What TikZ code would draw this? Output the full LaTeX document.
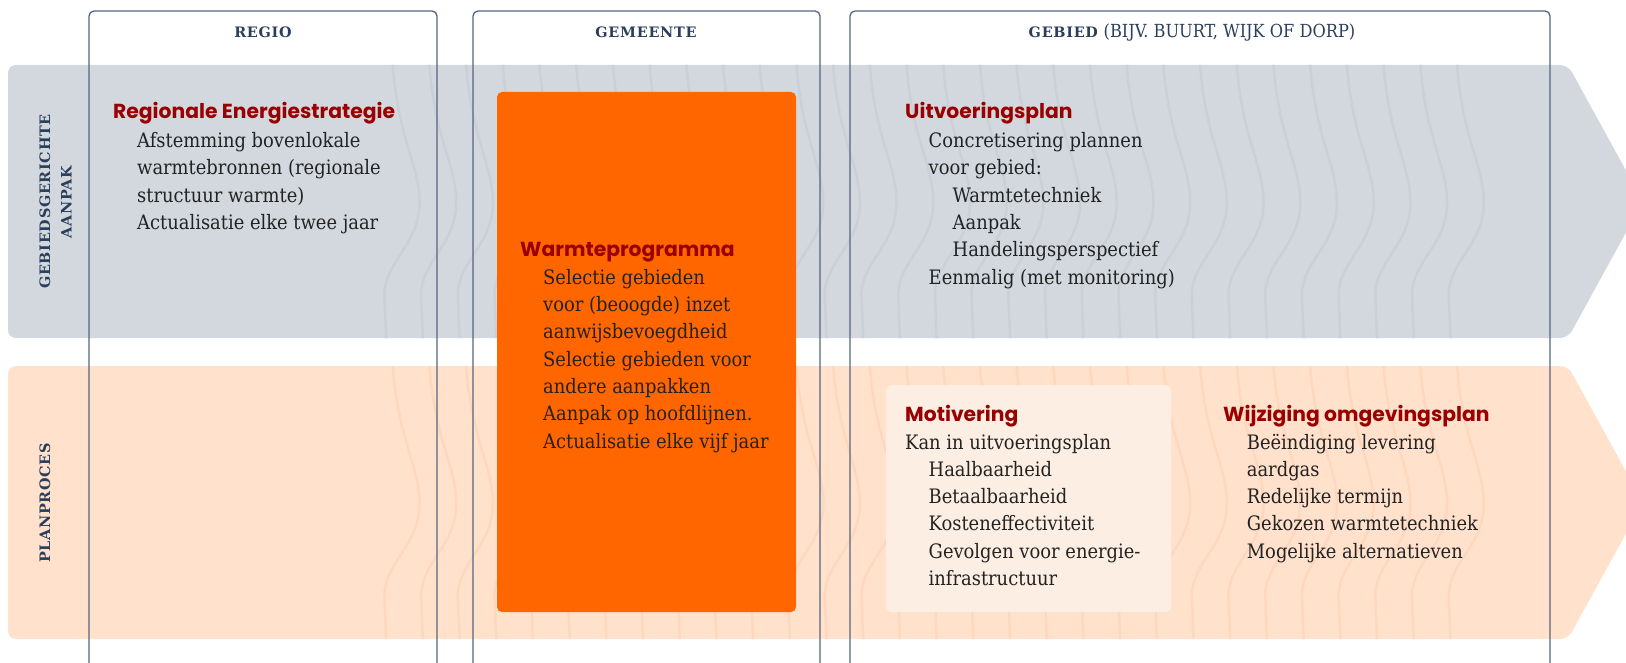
\documentclass[tikz,border=0pt]{standalone}
\usepackage{fontspec}
\setmainfont{DejaVu Serif Condensed}
\newfontfamily\poppins{Poppins}
\newfontfamily\slabhead{DejaVu Serif}[LetterSpace=5]
\newfontfamily\slabcond{DejaVu Serif Condensed}
\definecolor{bandgray}{HTML}{D3D8DF}
\definecolor{wavegray}{HTML}{CAD0D8}
\definecolor{bandpeach}{HTML}{FFE1CC}
\definecolor{wavepeach}{HTML}{FDD8BF}
\definecolor{orangebox}{HTML}{FF6600}
\definecolor{motbox}{HTML}{FDEEE3}
\definecolor{ttlred}{HTML}{990000}
\definecolor{navy}{HTML}{2B3F5C}
\definecolor{colline}{HTML}{56667E}
\definecolor{bodytext}{HTML}{222222}
\newcommand\bodyfont{\fontsize{19.9}{22}\selectfont}
\newcommand\ttlfont{\poppins\bfseries\fontsize{20.3}{22}\selectfont}
\newcommand\hdrfont{\slabhead\bfseries\fontsize{14.4}{16}\selectfont}
\tikzset{
  body/.style={anchor=base west, inner sep=0, font=\bodyfont, text=bodytext},
  ttl/.style={anchor=base west, inner sep=0, font=\ttlfont, text=ttlred},
  hdr/.style={anchor=base, inner sep=0, font=\hdrfont, text=navy},
  side/.style={anchor=base, rotate=90, inner sep=0, font=\hdrfont, text=navy},
  colbox/.style={draw=colline, line width=1.3pt, rounded corners=5pt},
  wave/.style={line width=2.4pt},
}
\begin{document}
\begin{tikzpicture}[x=1pt,y=-1pt]
\useasboundingbox (0,0) rectangle (1626,663);
\clip (0,0) rectangle (1626,663);
\fill[white] (0,0) rectangle (1626,663);
% gray band
\begin{scope}
  \clip[rounded corners=8pt] (8,65) -- (1568,65) -- (1643,201.5) -- (1568,338) -- (8,338) -- cycle;
  \fill[bandgray] (0,0) rectangle (1700,700);
  \foreach \k in {0,...,29} {
    \pgfmathsetmacro\xo{1456.7-36.7*\k}
    \draw[wave, wavegray] (\xo,60) .. controls (\xo+5,140) and (\xo+28,165) .. (\xo+27,205) .. controls (\xo+26,245) and (\xo-8,262) .. (\xo-8,295) -- (\xo-6,345);
  }
\end{scope}
% peach band
\begin{scope}
  \clip[rounded corners=8pt] (8,366) -- (1568,366) -- (1643,502.5) -- (1568,639) -- (8,639) -- cycle;
  \fill[bandpeach] (0,0) rectangle (1700,700);
  \foreach \k in {0,...,29} {
    \pgfmathsetmacro\xo{1456.7-36.7*\k}
    \draw[wave, wavepeach] (\xo,361) .. controls (\xo+5,441) and (\xo+28,466) .. (\xo+27,506) .. controls (\xo+26,546) and (\xo-8,563) .. (\xo-8,596) -- (\xo-6,646);
  }
\end{scope}
% column boxes
\draw[colbox] (89,680) -- (89,11) -- (437,11) -- (437,680);
\draw[colbox] (473,680) -- (473,11) -- (820,11) -- (820,680);
\draw[colbox] (850,680) -- (850,11) -- (1550,11) -- (1550,680);
% headers
\node[hdr] (hregio) at (263,37.7) {REGIO};
\node[hdr] (hgem) at (646,37.7) {GEMEENTE};
\node[anchor=base, inner sep=0, text=navy] (hgeb) at (1192,37.7) {\hdrfont GEBIED\ {\slabcond\mdseries\fontsize{18}{18}\selectfont(BIJV. BUURT, WIJK OF DORP)}};
% side labels
\node[side] (s1) at (50,201.5) {GEBIEDSGERICHTE};
\node[side] (s2) at (71.7,202) {AANPAK};
\node[side] (s3) at (50,503) {PLANPROCES};
% boxes
\fill[orangebox, rounded corners=5pt] (497,92) rectangle (796,612);
\fill[motbox, rounded corners=6pt] (886,385) rectangle (1171,612);
% REGIO text
\node[ttl] (t1) at (113,119) {Regionale Energiestrategie};
\node[body] (r1) at (137,147.7) {Afstemming bovenlokale};
\node[body] (r2) at (137,175) {warmtebronnen (regionale};
\node[body] (r3) at (137,202.3) {structuur warmte)};
\node[body] (r4) at (137,229.6) {Actualisatie elke twee jaar};
% Uitvoeringsplan
\node[ttl] (t2) at (905,119) {Uitvoeringsplan};
\node[body] (u1) at (928.5,147.7) {Concretisering plannen};
\node[body] (u2) at (928.5,175) {voor gebied:};
\node[body] (u3) at (952.5,202.3) {Warmtetechniek};
\node[body] (u4) at (952.5,229.6) {Aanpak};
\node[body] (u5) at (952.5,257) {Handelingsperspectief};
\node[body] (u6) at (928.5,284.3) {Eenmalig (met monitoring)};
% Warmteprogramma
\node[ttl] (t3) at (520,257) {Warmteprogramma};
\node[body] (w1) at (543,284.3) {Selectie gebieden};
\node[body] (w2) at (543,311.6) {voor (beoogde) inzet};
\node[body] (w3) at (543,338.9) {aanwijsbevoegdheid};
\node[body] (w4) at (543,366.2) {Selectie gebieden voor};
\node[body] (w5) at (543,393.5) {andere aanpakken};
\node[body] (w6) at (543,420.8) {Aanpak op hoofdlijnen.};
\node[body] (w7) at (543,448.1) {Actualisatie elke vijf jaar};
% Motivering
\node[ttl] (t4) at (905,421.7) {Motivering};
\node[body] (m1) at (905,449) {Kan in uitvoeringsplan};
\node[body] (m2) at (928.5,476.3) {Haalbaarheid};
\node[body] (m3) at (928.5,503.6) {Betaalbaarheid};
\node[body] (m4) at (928.5,530.9) {Kosteneffectiviteit};
\node[body] (m5) at (928.5,558.2) {Gevolgen voor energie-};
\node[body] (m6) at (928.5,585.5) {infrastructuur};
% Wijziging omgevingsplan
\node[ttl] (t5) at (1223,421.7) {Wijziging omgevingsplan};
\node[body] (o1) at (1246.7,449) {Beëindiging levering};
\node[body] (o2) at (1246.7,476.3) {aardgas};
\node[body] (o3) at (1246.7,503.6) {Redelijke termijn};
\node[body] (o4) at (1246.7,530.9) {Gekozen warmtetechniek};
\node[body] (o5) at (1246.7,558.2) {Mogelijke alternatieven};
\end{tikzpicture}
\end{document}
